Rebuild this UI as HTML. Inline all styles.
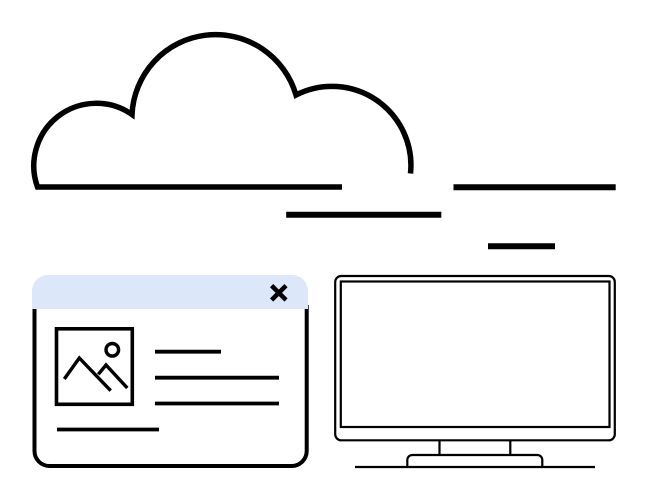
<!DOCTYPE html>
<html>
<head>
<meta charset="utf-8">
<style>
html,body{margin:0;padding:0;background:#fff;width:648px;height:500px;overflow:hidden}
svg{display:block}
</style>
</head>
<body>
<svg width="648" height="500" viewBox="0 0 648 500" xmlns="http://www.w3.org/2000/svg" fill="none" stroke="#000">
  <!-- cloud -->
  <path d="M342 187H37.500A62.500 62.500 0 0 1 132 114.500A83.700 83.700 0 0 1 296 95A79 79 0 0 1 410.500 173.500" stroke-width="5.500" stroke-linejoin="miter"/>
  <path d="M453.500 187.300H615.700M286.200 214.800H441.300M488 246.300H555" stroke-width="6"/>

  <!-- window -->
  <path d="M34.500 305V451A15 15 0 0 0 49.500 466H291.500A15 15 0 0 0 306.700 451V305" stroke-width="4"/>
  <path d="M32 309V291A16 16 0 0 1 48 275H292A16 16 0 0 1 308 291V309Z" fill="#dce8fa" stroke="none"/>
  <path d="M271.600 285.600L286 300M286 285.600L271.600 300" stroke-width="4.500"/>
  <rect x="56.500" y="328.800" width="75.800" height="75.500" stroke-width="3.600"/>
  <circle cx="112.300" cy="349.800" r="6.300" stroke-width="3.400"/>
  <path d="M64.300 379L79.300 358L110.700 390.700M98.300 374.300L106 365L127.300 388" stroke-width="3.400"/>
  <path d="M155 351.700H221M155 377.700H279M155 403.500H279M57 429.500H159" stroke-width="3.800"/>

  <!-- monitor -->
  <rect x="335.200" y="276" width="279.600" height="164.300" rx="6" stroke-width="2.200"/>
  <rect x="340.800" y="281.500" width="268.700" height="145.500" stroke-width="2.200"/>
  <path d="M439.500 440V455M510.300 440V455" stroke-width="2.200"/>
  <path d="M407.300 467V460A5 5 0 0 1 412.300 455H537.300A5 5 0 0 1 542.300 460V467" stroke-width="2.200"/>
  <path d="M355 467H595" stroke-width="2.200"/>
</svg>
</body>
</html>
